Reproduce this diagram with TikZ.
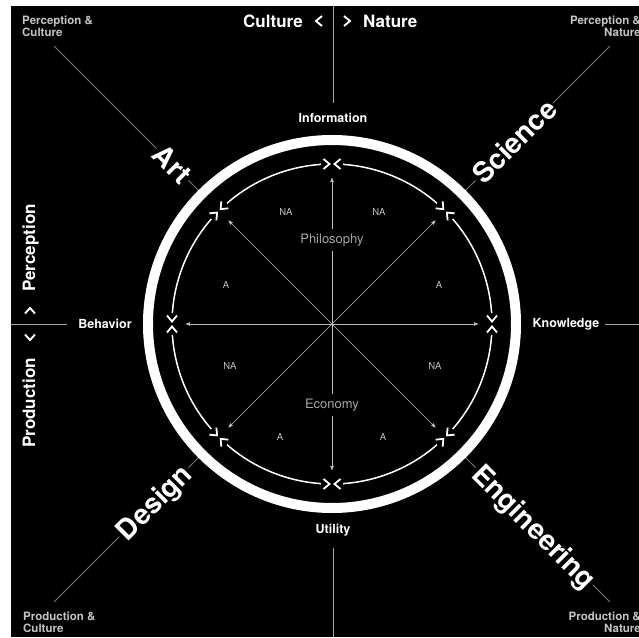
\documentclass[tikz,border=0pt]{standalone}
\usepackage{fontspec}
\setmainfont{TeX Gyre Heros}
\usetikzlibrary{arrows.meta}
\definecolor{lgray}{HTML}{C4C4C4}
\definecolor{mgray}{HTML}{A6A6A6}
\definecolor{rgray}{HTML}{BDBDBD}
\definecolor{dgray}{HTML}{7A7A7A}
\begin{document}
\begin{tikzpicture}[x=1pt,y=1pt,
  bigword/.style={font=\fontsize{28}{28}\selectfont\bfseries, text=white, fill=black, inner sep=2pt, text height=20pt, text depth=0pt},
  axislab/.style={font=\fontsize{17}{17}\selectfont\bfseries, text=white, inner sep=0pt, text height=12.3pt, text depth=0pt},
  pole/.style={font=\fontsize{12.5}{12.5}\selectfont\bfseries, text=white, inner sep=1pt},
  corner/.style={font=\fontsize{11.5}{12}\selectfont\bfseries, text=lgray, inner sep=0pt},
  zone/.style={font=\fontsize{9.5}{10}\selectfont, text=lgray},
  field/.style={font=\fontsize{13}{13}\selectfont, text=mgray, fill=black, inner xsep=3pt, inner ysep=5pt},
  ray/.style={draw=rgray, line width=0.7pt, -{Latex[length=5pt,width=4pt]}},
  chev/.style={draw=white, line width=1.8pt, line join=miter},
  arcline/.style={draw=white, line width=1.5pt},
  diag/.style={draw=dgray, line width=0.8pt},
  axisline/.style={draw=mgray, line width=0.8pt},
  tchev/.style={draw=white, line width=1.9pt, line join=miter}]
\useasboundingbox (-332,-313) rectangle (307,324);
\fill[white] (-332,-313) rectangle (307,324);
\fill[black] (-321,-313) rectangle (307,318);

% diagonal lines to the corners
\foreach \a/\n in {45/TR,135/TL,225/BL,315/BR}{
  \coordinate (c\n) at (\a:393);
  \coordinate (r\n) at (\a:186);
  \draw[diag] (c\n) -- (r\n);
}

% outer ring
\draw[white, line width=10pt] (0,0) circle[radius=184];

% inner arcs and chevron markers
\foreach \a in {0,45,...,315}{
  \draw[arcline] (\a+4:160) arc[start angle=\a+4, end angle=\a+41, radius=160];
  \begin{scope}[shift={(\a:160)}, rotate=\a]
    \draw[chev] (-5,8.5) -- (0,2.5) -- (5,8.5);
    \draw[chev] (-5,-8.5) -- (0,-2.5) -- (5,-8.5);
  \end{scope}
}

% radial arrows
\coordinate (O) at (0,0);
\foreach \a/\n in {0/E,45/NE,90/N,135/NW,180/W,225/SW,270/S,315/SE}{
  \coordinate (tip\n) at (\a:147);
  \draw[ray] (O) -- (tip\n);
}
\node[field] (phil) at (0,84) {Philosophy};
\node[field] (econ) at (0,-81) {Economy};

% zone labels
\node[zone] (z1) at (-46,112) {NA};
\node[zone] (z2) at (47,112) {NA};
\node[zone] (z3) at (-106,39) {A};
\node[zone] (z4) at (107,39) {A};
\node[zone] (z5) at (-102,-42) {NA};
\node[zone] (z6) at (103,-42) {NA};
\node[zone] (z7) at (-52,-113) {A};
\node[zone] (z8) at (51,-113) {A};

% poles
\node[pole] (info) at (1,206) {Information};
\node[pole] (util) at (1,-206) {Utility};
\node[pole] (behav) at (-227,0) {Behavior};
\node[pole] (know) at (234,0) {Knowledge};

% axis lines
\coordinate (topA) at (1,318);
\coordinate (topB) at (1,221);
\coordinate (botA) at (1,-224);
\coordinate (botB) at (1,-313);
\coordinate (lefA) at (-321,0);
\coordinate (lefB) at (-265,0);
\coordinate (rigA) at (273,0);
\coordinate (rigB) at (307,0);
\draw[axisline] (topA) -- (topB);
\draw[axisline] (botA) -- (botB);
\draw[axisline] (lefA) -- (lefB);
\draw[axisline] (rigA) -- (rigB);

% top axis labels
\node[axislab, anchor=east] (cult) at (-29,303) {Culture};
\node[axislab, anchor=west] (natu) at (31,303) {Nature};
\draw[tchev] (-10,308) -- (-16,303) -- (-10,298);
\draw[tchev] (12,308) -- (18,303) -- (12,298);

% left axis labels
\node[axislab, anchor=west, rotate=90] (perc) at (-303,32) {Perception};
\node[axislab, anchor=east, rotate=90] (prod) at (-303,-34) {Production};
\draw[tchev] (-307,10.5) -- (-302,16) -- (-297,10.5);
\draw[tchev] (-307,-10.5) -- (-302,-16) -- (-297,-10.5);

% diagonal words
\node[bigword, rotate=-45, anchor=east] (art) at (135:203) {Art};
\node[bigword, rotate=45, anchor=west] (sci) at (45:203) {Science};
\node[bigword, rotate=45, anchor=east] (des) at (225:203) {Design};
\node[bigword, rotate=-45, anchor=west] (eng) at (315:203) {Engineering};

% corner labels
\node[corner, anchor=north west, align=left] (pc) at (-310,308) {Perception \&\\Culture};
\node[corner, anchor=north east, align=right] (pn) at (309,308) {Perception \&\\Nature};
\node[corner, anchor=north west, align=left] (qc) at (-309,-287.5) {Production \&\\Culture};
\node[corner, anchor=north east, align=right] (qn) at (309,-287.5) {Production \&\\Nature};
\end{tikzpicture}
\end{document}
